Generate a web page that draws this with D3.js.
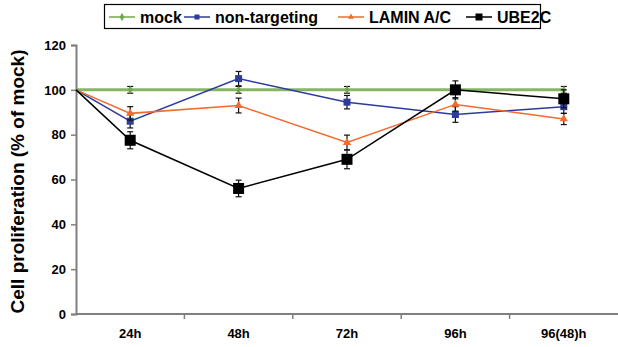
<!DOCTYPE html>
<html>
<head>
<meta charset="utf-8">
<script src="https://cdn.jsdelivr.net/npm/d3@7"></script>
<style>
  body { margin: 0; background: #fff; }
  svg { font-family: "Liberation Sans", Arial, sans-serif; font-weight: bold; }
</style>
</head>
<body>
<div id="chart"></div>
<script>
// time points on the x axis
const categories = ["24h", "48h", "72h", "96h", "96(48)h"];
const startValue = 100;
const yTicks = [0, 20, 40, 60, 80, 100, 120];

const mockValues = [100, 100, 100, 100, 100];
const mockErr = [1.5, 1.5, 1.5, 1.5, 1.5];
const nonTargetingValues = [86, 105, 94.5, 89, 92.5];
const nonTargetingErr = [3, 3.2, 3, 3.5, 3];
const laminValues = [89.5, 93, 76.5, 93.5, 87];
const laminErr = [3, 3.3, 3.3, 3, 2.5];
const ube2cValues = [77.5, 56, 69, 100, 96];
const ube2cErr = [3.8, 3.7, 4.2, 4, 4];

const seriesNames = ["mock", "non-targeting", "LAMIN A/C", "UBE2C"];

const width = 618, height = 347;
const margin = { top: 45, right: 0, bottom: 33, left: 76 };

const series = [
  { name: seriesNames[0], values: mockValues, err: mockErr, color: "#72a84c", lw: 3, marker: "diamond", size: 5 },
  { name: seriesNames[1], values: nonTargetingValues, err: nonTargetingErr, color: "#2d3b9a", lw: 1.5, marker: "square", size: 7 },
  { name: seriesNames[2], values: laminValues, err: laminErr, color: "#f4692c", lw: 1.5, marker: "triangle", size: 7 },
  { name: seriesNames[3], values: ube2cValues, err: ube2cErr, color: "#000000", lw: 1.5, marker: "square", size: 11 }
];

const svg = d3.select("#chart").append("svg")
  .attr("width", width)
  .attr("height", height);

const x = d3.scaleBand()
  .domain(categories)
  .range([margin.left, width - margin.right]);

const y = d3.scaleLinear()
  .domain([0, 120])
  .range([height - margin.bottom, margin.top]);

const xc = d => x(d) + x.bandwidth() / 2;

// y axis
const yAxis = svg.append("g")
  .attr("transform", "translate(" + margin.left + ",0)")
  .call(d3.axisLeft(y).tickValues(yTicks).tickSize(5).tickPadding(5));
yAxis.select(".domain").attr("stroke", "#7f7f7f").attr("stroke-width", 2);
yAxis.selectAll(".tick line").attr("stroke", "#7f7f7f").attr("stroke-width", 1.5);
yAxis.selectAll("text").attr("font-size", 13).attr("font-weight", "bold").attr("fill", "#000")
  .attr("font-family", "Liberation Sans, Arial, sans-serif");

// x axis (ticks between categories)
const xAxisG = svg.append("g")
  .attr("transform", "translate(0," + y(0) + ")");
xAxisG.append("line")
  .attr("x1", margin.left).attr("x2", width)
  .attr("stroke", "#7f7f7f").attr("stroke-width", 2);
xAxisG.selectAll(".xt")
  .data(categories.slice(1))
  .enter().append("line")
  .attr("x1", d => x(d)).attr("x2", d => x(d))
  .attr("y1", 0).attr("y2", 5)
  .attr("stroke", "#7f7f7f").attr("stroke-width", 1.5);
xAxisG.selectAll(".xl")
  .data(categories)
  .enter().append("text")
  .attr("x", d => xc(d))
  .attr("y", 24)
  .attr("text-anchor", "middle")
  .attr("font-size", 13)
  .text(d => d);

// y title
svg.append("text")
  .attr("transform", "translate(24," + (y(60) + 2) + ") rotate(-90)")
  .attr("text-anchor", "middle")
  .attr("font-size", 19)
  .text("Cell proliferation (% of mock)");

function drawMarker(g, type, cx, cy, s, color) {
  if (type === "square") {
    g.append("rect").attr("x", cx - s / 2).attr("y", cy - s / 2)
      .attr("width", s).attr("height", s).attr("fill", color);
  } else if (type === "triangle") {
    g.append("path").attr("d", d3.symbol(d3.symbolTriangle, s * s * 0.6)())
      .attr("transform", "translate(" + cx + "," + cy + ")").attr("fill", color);
  } else {
    g.append("path").attr("d", d3.symbol(d3.symbolDiamond, s * s * 0.8)())
      .attr("transform", "translate(" + cx + "," + cy + ")").attr("fill", color);
  }
}

const line = d3.line().x(d => d[0]).y(d => d[1]);

series.forEach(s => {
  const g = svg.append("g");
  const pts = [[margin.left, y(startValue)]].concat(categories.map((c, i) => [xc(c), y(s.values[i])]));
  g.append("path")
    .attr("d", line(pts))
    .attr("fill", "none")
    .attr("stroke", s.color)
    .attr("stroke-width", s.lw)
    .attr("opacity", s.name === "mock" ? 0.85 : 1);
  // error bars
  categories.forEach((c, i) => {
    const cx = xc(c);
    const top = y(s.values[i] + s.err[i]), bot = y(s.values[i] - s.err[i]);
    g.append("line").attr("x1", cx).attr("x2", cx).attr("y1", top).attr("y2", bot)
      .attr("stroke", "#111").attr("stroke-width", 1.2);
    [top, bot].forEach(yy => g.append("line")
      .attr("x1", cx - 3).attr("x2", cx + 3).attr("y1", yy).attr("y2", yy)
      .attr("stroke", "#111").attr("stroke-width", 1.2));
  });
  categories.forEach((c, i) => drawMarker(g, s.marker, xc(c), y(s.values[i]), s.size, s.color));
});

// legend
const legend = svg.append("g").attr("transform", "translate(104,4)");
legend.append("rect")
  .attr("x", 0.5).attr("y", 0.5).attr("width", 436).attr("height", 24)
  .attr("fill", "#fff").attr("stroke", "#000").attr("stroke-width", 1.2);
const legendX = [5, 80, 234, 362];
series.forEach((s, i) => {
  const lg = legend.append("g").attr("transform", "translate(" + legendX[i] + ",13)");
  lg.append("line").attr("x1", 0).attr("x2", 26).attr("stroke", s.color).attr("stroke-width", s.name === "mock" ? 1.5 : 1.5);
  drawMarker(lg, s.marker, 13, 0, s.name === "UBE2C" ? 7 : 5, s.color);
  lg.append("text").attr("x", 31).attr("y", 6).attr("font-size", 16).text(s.name);
});
</script>
</body>
</html>
